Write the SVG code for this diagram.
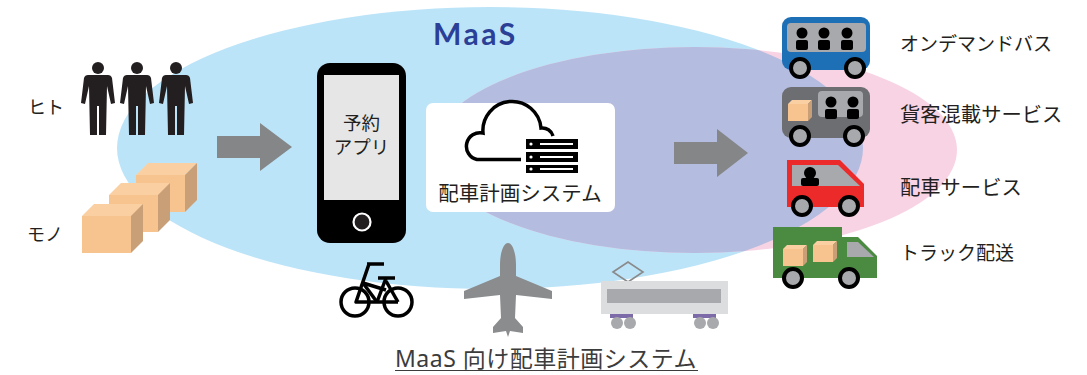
<svg xmlns="http://www.w3.org/2000/svg" width="1087" height="375" viewBox="0 0 1087 375">
  <style>
    .jp { font-family: "Noto Sans CJK JP", "Noto Sans", sans-serif; fill: #231f20; }
    .wheel { fill: #a7a9ac; stroke: #000; stroke-width: 4; }
    .win { fill: #a7a9ac; }
    .ink { fill: #000; }
    .arrow { fill: #848688; }
    .front { fill: #f7c38e; }
    .top { fill: #fad0a3; }
    .side { fill: #c99f78; }
    .person { fill: #231f20; }
  </style>
  <defs>
    <clipPath id="blueClip">
      <ellipse cx="490" cy="148" rx="373" ry="141"/>
    </clipPath>
    <path id="personShape" d="M-10,7 L10,7 Q13,7 14,10 L17,35 L13,36 L9,18 L8,67 L1,67 L1,38 L-1,38 L-1,67 L-8,67 L-9,18 L-13,36 L-17,35 L-14,10 Q-13,7 -10,7 Z"/>
    <g id="cube">
      <polygon class="top" points="0,0 12,-12 61,-12 49,0"/>
      <polygon class="side" points="49,0 61,-12 61,25 49,37"/>
      <rect class="front" x="0" y="0" width="49" height="37"/>
    </g>
    <g id="smallCube">
      <polygon class="top" points="0,0 4,-4 24,-4 20,0"/>
      <polygon class="side" points="20,0 24,-4 24,13 20,17"/>
      <rect class="front" x="0" y="0" width="20" height="17"/>
    </g>
    <g id="rider">
      <circle cx="0" cy="0" r="5.5"/>
      <rect x="-6" y="7" width="12" height="10" rx="2"/>
    </g>
  </defs>

  <!-- service areas -->
  <g id="areas">
    <ellipse cx="490" cy="148" rx="373" ry="141" fill="#bce4f8"/>
    <ellipse cx="695" cy="150" rx="262" ry="103" fill="#f8d3e4"/>
    <ellipse cx="695" cy="150" rx="262" ry="103" fill="#b4bcdf" clip-path="url(#blueClip)"/>
    <text x="433" y="45" font-family="Lato, 'Noto Sans', sans-serif" font-weight="700" font-size="30" letter-spacing="2.5" fill="#2b3f96">MaaS</text>
  </g>

  <!-- people -->
  <g id="people">
    <g class="person">
      <circle cx="98" cy="68" r="6"/>
      <use href="#personShape" x="98" y="68"/>
      <circle cx="137" cy="68" r="6"/>
      <use href="#personShape" x="137" y="68"/>
      <circle cx="176" cy="68" r="6"/>
      <use href="#personShape" x="176" y="68"/>
    </g>
    <text class="jp" x="28" y="114" font-size="18">ヒト</text>
  </g>

  <!-- goods -->
  <g id="goods">
    <use href="#cube" x="136" y="175"/>
    <use href="#cube" x="109" y="195"/>
    <use href="#cube" x="82" y="216"/>
    <text class="jp" x="27" y="241" font-size="18">モノ</text>
  </g>

  <!-- booking app -->
  <g id="app">
    <rect x="317" y="63" width="89" height="180" rx="13" fill="#000"/>
    <rect x="324" y="75" width="75" height="125" fill="#e6e6e6"/>
    <circle cx="362" cy="222" r="8.5" fill="#231f20" stroke="#fff" stroke-width="2.2"/>
    <text class="jp" x="361.5" y="130" font-size="18.5" text-anchor="middle">予約</text>
    <text class="jp" x="361.5" y="154" font-size="18.5" text-anchor="middle">アプリ</text>
  </g>

  <!-- dispatch system -->
  <g id="dispatch">
    <rect x="426" y="103" width="189" height="109" rx="7" fill="#fff"/>
    <path d="M521,159.5 H477 A13.5,13.5 0 0 1 483,133 A29,29 0 0 1 541,128 A11,11 0 0 1 553,136" fill="none" stroke="#000" stroke-width="3.5"/>
    <g>
      <rect x="526" y="139" width="52" height="10" fill="#000"/>
      <rect x="526" y="152" width="52" height="10" fill="#000"/>
      <rect x="526" y="165" width="52" height="8" fill="#000"/>
      <circle cx="531" cy="144" r="1.6" fill="#fff"/>
      <circle cx="531" cy="157" r="1.6" fill="#fff"/>
      <circle cx="531" cy="169" r="1.6" fill="#fff"/>
      <rect x="540" y="143" width="33" height="2" fill="#fff"/>
      <rect x="540" y="156" width="33" height="2" fill="#fff"/>
      <rect x="540" y="168" width="33" height="2" fill="#fff"/>
    </g>
    <text class="jp" x="520" y="201" font-size="20.5" text-anchor="middle">配車計画システム</text>
  </g>

  <!-- flow arrows -->
  <g id="connectors">
    <polygon class="arrow" points="217,136 260,136 260,123 292,147 260,171 260,158 217,158"/>
    <polygon class="arrow" points="674,142 717,142 717,129 748,153 717,177 717,164 674,164"/>
  </g>

  <!-- on-demand bus -->
  <g id="bus">
    <rect x="782" y="17" width="88" height="53" rx="9" fill="#1e70b6"/>
    <rect class="win" x="787" y="23" width="79" height="29" rx="4"/>
    <g class="ink">
      <use href="#rider" x="802" y="33"/>
      <use href="#rider" x="824" y="33"/>
      <use href="#rider" x="847" y="33"/>
    </g>
    <circle class="wheel" cx="800" cy="68" r="9"/>
    <circle class="wheel" cx="855" cy="68" r="9"/>
    <text class="jp" x="900" y="51" font-size="19">オンデマンドバス</text>
  </g>

  <!-- mixed passenger/freight -->
  <g id="mixed">
    <rect x="782" y="87" width="88" height="51" rx="9" fill="#6d6e71"/>
    <rect class="win" x="818" y="91" width="45" height="26" rx="4"/>
    <g class="ink">
      <use href="#rider" x="831" y="102"/>
      <use href="#rider" x="853" y="102"/>
    </g>
    <use href="#smallCube" x="788" y="104"/>
    <circle class="wheel" cx="800" cy="136" r="9"/>
    <circle class="wheel" cx="854" cy="136" r="9"/>
    <text class="jp" x="900" y="122" font-size="20.3">貨客混載サービス</text>
  </g>

  <!-- ride service car -->
  <g id="car">
    <polygon points="787,160 840,160 864,184 864,207 787,207" fill="#ed2a2a"/>
    <polygon class="win" points="792,165 838,165 860,186 792,186"/>
    <g class="ink">
      <circle cx="810" cy="173" r="6"/>
      <rect x="801" y="178" width="18" height="8" rx="2"/>
    </g>
    <circle class="wheel" cx="802" cy="206" r="9"/>
    <circle class="wheel" cx="849" cy="206" r="9"/>
    <text class="jp" x="900" y="195" font-size="20.3">配車サービス</text>
  </g>

  <!-- delivery truck -->
  <g id="truck">
    <rect x="773" y="227" width="69" height="51" fill="#4a8a41"/>
    <polygon points="842,237 858,237 877,256 877,278 842,278" fill="#4a8a41"/>
    <polygon class="win" points="847,242 858,242 874,257 847,257"/>
    <use href="#smallCube" x="783" y="249"/>
    <use href="#smallCube" x="813" y="245"/>
    <circle class="wheel" cx="793" cy="278" r="9"/>
    <circle class="wheel" cx="849" cy="278" r="9"/>
    <text class="jp" x="900" y="260" font-size="19">トラック配送</text>
  </g>

  <!-- bicycle -->
  <g id="bicycle" fill="none" stroke="#000" stroke-width="3.5" stroke-linejoin="round" stroke-linecap="butt">
    <circle cx="355" cy="302" r="14"/>
    <circle cx="398" cy="302" r="14"/>
    <path d="M367,264 H384"/>
    <path d="M369,264 L356,302 H398"/>
    <path d="M363,283 L386,290"/>
    <path d="M363,283 L377,302"/>
    <path d="M378,278 H395"/>
    <path d="M386,278 L377,302"/>
    <path d="M386,281 L398,302"/>
  </g>

  <!-- airplane -->
  <g id="airplane">
    <path d="M508,243 C513,243 516,254 516,265 L516,276 L552,291 L552,299 L516,295 L515,318 L523,327 L523,333 L510,331 L508,337 L506,331 L493,333 L493,327 L501,318 L500,295 L464,299 L464,291 L500,276 L500,265 C500,254 503,243 508,243 Z" fill="#8a8c8e"/>
  </g>

  <!-- train -->
  <g id="train">
    <polygon points="613,272 628,262 643,272 628,282" fill="none" stroke="#8a8a8a" stroke-width="1.6"/>
    <rect x="601" y="281" width="127" height="33" fill="#dcdddf"/>
    <rect x="607" y="289" width="114" height="14" fill="#a7a9ac"/>
    <rect x="610" y="314" width="23" height="4" fill="#7d6aa8"/>
    <rect x="693" y="314" width="23" height="4" fill="#7d6aa8"/>
    <circle cx="617" cy="323" r="6" fill="#a7a9ac"/>
    <circle cx="630" cy="323" r="6" fill="#a7a9ac"/>
    <circle cx="700" cy="323" r="6" fill="#a7a9ac"/>
    <circle cx="713" cy="323" r="6" fill="#a7a9ac"/>
  </g>

  <!-- caption -->
  <g id="caption">
    <text x="395" y="367" font-family="'Noto Sans', 'Noto Sans CJK JP', sans-serif" font-size="23" letter-spacing="0.5" fill="#3c3c3c">MaaS 向け配車計画システム</text>
    <line x1="395" y1="370.5" x2="698" y2="370.5" stroke="#3c3c3c" stroke-width="1.2"/>
  </g>
</svg>
